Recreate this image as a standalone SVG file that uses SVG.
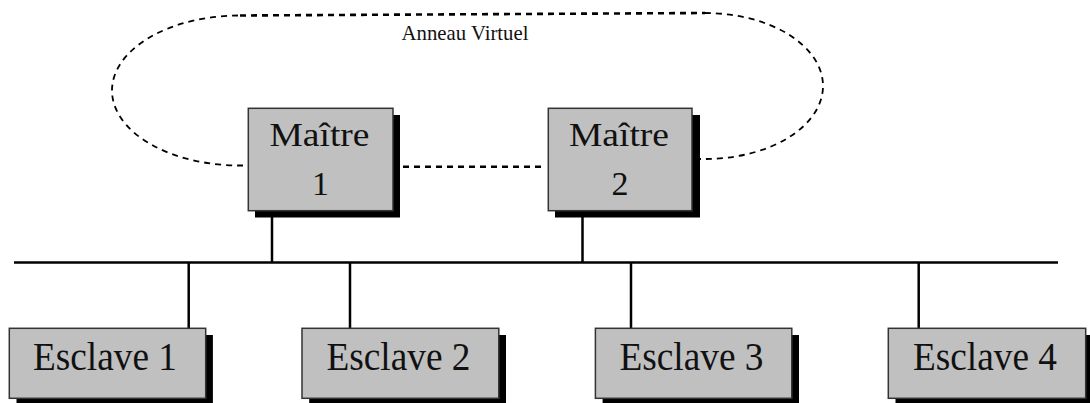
<svg xmlns="http://www.w3.org/2000/svg" width="1090" height="403" viewBox="0 0 1090 403">
<style>
.box{fill:#c0c0c0;stroke:#333;stroke-width:1.5}
.shadow{fill:#000}
.lbl{font-family:"Liberation Serif","Times New Roman",serif;fill:#111;text-anchor:middle}
.m{font-size:34px}
.e{font-size:41px}
.wire{stroke:#000;stroke-width:2.5;fill:none}
.ring{stroke:#000;stroke-width:1.8;fill:none;stroke-dasharray:6 5}
.ringT{stroke:#000;stroke-width:2.6;fill:none;stroke-dasharray:6 5}
</style>
<rect width="1090" height="403" fill="#fff"/>
<g id="connectors">
<path class="ring" d="M243 165.5 L240 165.5 A128 75 0 0 1 240 15.5"/>
<path class="ringT" d="M240 15.5 L705 13"/>
<path class="ring" d="M705 13 A118 73 0 0 1 705 159 L700 159"/>
<line class="ringT" x1="403" y1="166.7" x2="545" y2="166.7"/>
<line class="wire" x1="14" y1="262.5" x2="1058" y2="262.5"/>
<line class="wire" x1="272" y1="217" x2="272" y2="262.5"/>
<line class="wire" x1="582.5" y1="217" x2="582.5" y2="262.5"/>
<line class="wire" x1="188.7" y1="262.5" x2="188.7" y2="328.5"/>
<line class="wire" x1="350" y1="262.5" x2="350" y2="328.5"/>
<line class="wire" x1="631" y1="262.5" x2="631" y2="328.5"/>
<line class="wire" x1="918.7" y1="262.5" x2="918.7" y2="328.5"/>
</g>
<text class="lbl" x="465" y="40" style="font-size:21.5px" textLength="127" lengthAdjust="spacingAndGlyphs">Anneau Virtuel</text>
<g id="maitre1">
<rect class="shadow" x="255" y="115" width="145" height="102.5"/>
<rect class="box" x="248.3" y="108.3" width="144.7" height="102.4"/>
<text class="lbl m" x="319.5" y="146" textLength="100" lengthAdjust="spacingAndGlyphs">Maître</text>
<text class="lbl m" x="320.6" y="195">1</text>
</g>
<g id="maitre2">
<rect class="shadow" x="555" y="115" width="145" height="102.5"/>
<rect class="box" x="548.3" y="108.3" width="143.7" height="102.4"/>
<text class="lbl m" x="619" y="146" textLength="100" lengthAdjust="spacingAndGlyphs">Maître</text>
<text class="lbl m" x="620" y="195">2</text>
</g>
<g id="esclave1">
<rect class="shadow" x="16.5" y="335" width="196.4" height="70"/>
<rect class="box" x="9.3" y="328.3" width="196.4" height="70"/>
<text class="lbl e" x="105" y="369.5" textLength="144" lengthAdjust="spacingAndGlyphs">Esclave 1</text>
</g>
<g id="esclave2">
<rect class="shadow" x="309.2" y="335" width="196.8" height="70"/>
<rect class="box" x="302" y="328.3" width="196.8" height="70"/>
<text class="lbl e" x="398.5" y="369.5" textLength="144" lengthAdjust="spacingAndGlyphs">Esclave 2</text>
</g>
<g id="esclave3">
<rect class="shadow" x="602.6" y="335" width="196.4" height="70"/>
<rect class="box" x="595.4" y="328.3" width="196.4" height="70"/>
<text class="lbl e" x="691.5" y="369.5" textLength="144" lengthAdjust="spacingAndGlyphs">Esclave 3</text>
</g>
<g id="esclave4">
<rect class="shadow" x="895.5" y="335" width="197.4" height="70"/>
<rect class="box" x="888.3" y="328.3" width="197.4" height="70"/>
<text class="lbl e" x="985" y="369.5" textLength="144" lengthAdjust="spacingAndGlyphs">Esclave 4</text>
</g>
</svg>
